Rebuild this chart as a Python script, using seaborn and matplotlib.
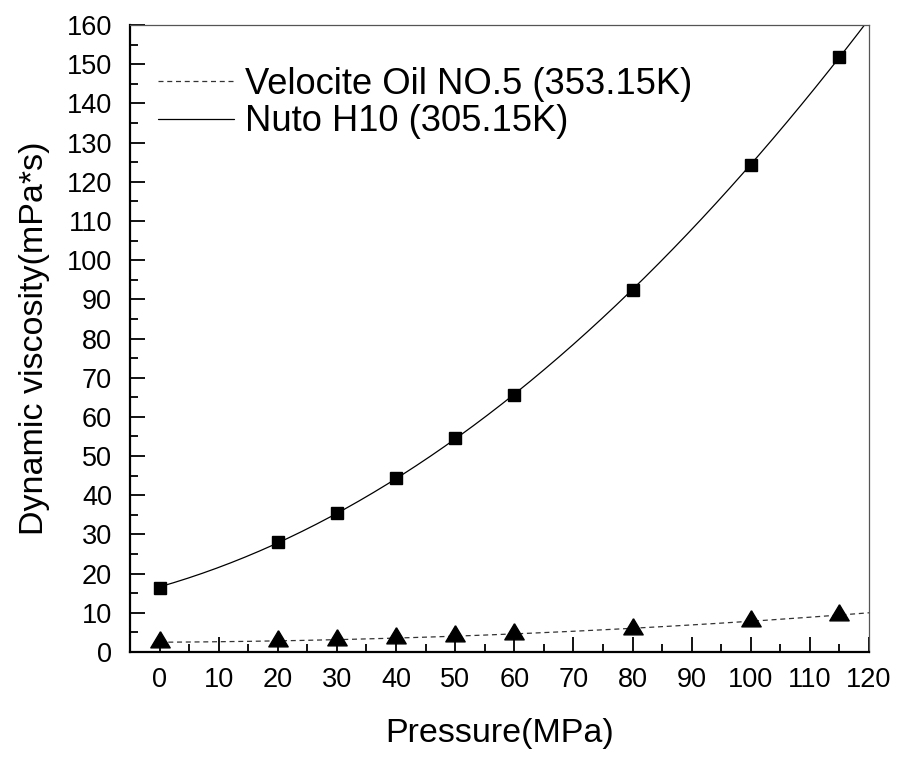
import numpy as np
import matplotlib
matplotlib.use("Agg")
import matplotlib.pyplot as plt
from matplotlib.ticker import MultipleLocator
import seaborn as sns

sns.set_style("ticks")
plt.rcParams["font.family"] = ["Liberation Sans", "DejaVu Sans"]
plt.rcParams["text.color"] = "black"
plt.rcParams["axes.labelcolor"] = "black"
plt.rcParams["xtick.color"] = "black"
plt.rcParams["ytick.color"] = "black"

# data
pressure = [0, 20, 30, 40, 50, 60, 80, 100, 115]
nuto_h10 = [16.4, 28.1, 35.5, 44.3, 54.5, 65.6, 92.3, 124.4, 151.9]
velocite = [2.5, 2.8, 3.1, 3.7, 4.1, 4.6, 6.0, 7.8, 9.5]

label_vel = "Velocite Oil NO.5 (353.15K)"
label_nuto = "Nuto H10 (305.15K)"

fig = plt.figure(figsize=(8.97, 7.58), dpi=100)
ax = fig.add_axes([0.1449, 0.1398, 0.8239, 0.8272])

# quadratic fit curves through the measured points
xs = np.linspace(0, 120, 200)
fit_vel = np.polyval(np.polyfit(pressure, velocite, 2), xs)
fit_nuto = np.polyval(np.polyfit(pressure, nuto_h10, 2), xs)

sns.lineplot(x=xs, y=fit_vel, ax=ax, color="#333333", lw=0.9,
             linestyle=(0, (4, 3)), label=label_vel)
sns.lineplot(x=xs, y=fit_nuto, ax=ax, color="black", lw=0.9, label=label_nuto)

# centroid-centred triangle, like the original software draws it
tri = [(0, 0.667), (-0.6, -0.333), (0.6, -0.333), (0, 0.667)]
ax.plot(pressure, velocite, linestyle="none", marker=tri, markersize=15.5,
        color="black", zorder=3)
ax.plot(pressure, nuto_h10, linestyle="none", marker="s", markersize=9.3,
        color="black", zorder=3)

ax.set_xlim(-5, 120)
ax.set_ylim(0, 160)
ax.xaxis.set_major_locator(MultipleLocator(10))
ax.xaxis.set_minor_locator(MultipleLocator(5))
ax.yaxis.set_major_locator(MultipleLocator(10))
ax.yaxis.set_minor_locator(MultipleLocator(5))
ax.set_xticks(np.arange(0, 121, 10))

ax.tick_params(which="major", direction="in", length=11, width=1.3,
               labelsize=19.5, color="black", top=False, right=False)
ax.tick_params(which="minor", direction="in", length=6, width=1.3,
               top=False, right=False)
ax.tick_params(axis="y", which="major", pad=13)
ax.tick_params(axis="x", which="major", pad=11)

for side in ["left", "bottom"]:
    ax.spines[side].set_linewidth(1.6)
    ax.spines[side].set_color("black")
for side in ["top", "right"]:
    ax.spines[side].set_linewidth(0.9)
    ax.spines[side].set_color("#555555")
    ax.spines[side].set_visible(True)

ax.set_xlabel("Pressure(MPa)", fontsize=24.5, labelpad=18)
ax.set_ylabel("Dynamic viscosity(mPa*s)", fontsize=24.5, labelpad=12)

ax.legend(loc="upper left", bbox_to_anchor=(0.018, 0.957), frameon=False,
          fontsize=26.2, handlelength=2.1, handletextpad=0.3,
          labelspacing=0.08, borderaxespad=0)

fig.savefig("out.png", dpi=100)
